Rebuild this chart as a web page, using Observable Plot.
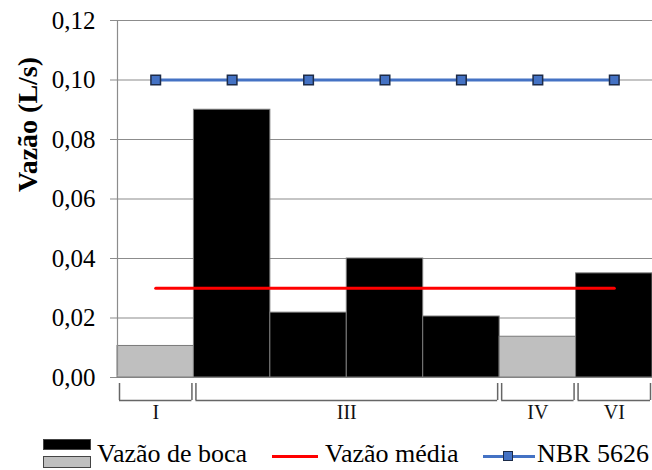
<!DOCTYPE html>
<html>
<head>
<meta charset="utf-8">
<script src="https://cdn.jsdelivr.net/npm/d3@7"></script>
<script src="https://cdn.jsdelivr.net/npm/@observablehq/plot@0.6"></script>
<style>
  html, body { margin: 0; padding: 0; background: white; }
  #wrap { position: relative; width: 652px; height: 470px; font-family: "Liberation Serif", "Times New Roman", serif; }
  #chart { position: absolute; left: 0; top: 0; }
  .lg { position: absolute; }
  .lgtext { position: absolute; font-family: "Liberation Serif", "Times New Roman", serif; font-size: 26px; line-height: 26px; color: #000; white-space: nowrap; }
</style>
</head>
<body>
<div id="wrap">
  <div id="chart"></div>
</div>
<script>
// ---- data ----
const barGroup = ["I", "III", "III", "III", "III", "IV", "VI"];
const barType = ["outro", "boca", "boca", "boca", "boca", "outro", "boca"];
const vazaoBoca = [0.0106, 0.090, 0.0218, 0.040, 0.0205, 0.0137, 0.035];
const vazaoMedia = [0.030, 0.030, 0.030, 0.030, 0.030, 0.030, 0.030];
const nbr5626 = [0.10, 0.10, 0.10, 0.10, 0.10, 0.10, 0.10];
const groupLabels = ["I", "III", "IV", "VI"];
const groupStart = [0, 1, 5, 6];
const groupEnd = [1, 5, 6, 7];
const yTicks = [0, 0.02, 0.04, 0.06, 0.08, 0.10, 0.12];
const yTickLabels = ["0,00", "0,02", "0,04", "0,06", "0,08", "0,10", "0,12"];
const yLabel = "Vazão (L/s)";
const legendLabels = ["Vazão de boca", "Vazão média", "NBR 5626"];

const bars = vazaoBoca.map((v, i) => ({i, group: barGroup[i], tipo: barType[i], value: v}));
const groups = groupLabels.map((g, k) => ({label: g, start: groupStart[k], end: groupEnd[k]}));
const ticks = yTicks.map((v, i) => ({value: v, label: yTickLabels[i]}));
const serif = "'Liberation Serif', 'Times New Roman', serif";

const chart = Plot.plot({
  width: 652,
  height: 432,
  marginLeft: 117,
  marginRight: 0,
  marginTop: 20,
  marginBottom: 55,
  x: {domain: [0, 7], axis: null},
  y: {domain: [0, 0.12], axis: null},
  color: {domain: ["boca", "outro"], range: ["#000000", "#bfbfbf"]},
  style: {fontFamily: serif, background: "white", overflow: "visible", color: "black"},
  marks: [
    // gridlines (extend left as ticks)
    Plot.ruleY(ticks, {y: "value", x1: 0, x2: 7, insetLeft: -7, stroke: "#8c8c8c", strokeWidth: 1.2}),
    // bars
    Plot.rectY(bars, {x1: d => d.i, x2: d => d.i + 1, y: "value", fill: "tipo", stroke: "#7a7a7a", strokeWidth: 1}),
    // y axis line
    Plot.ruleX([0], {x: d => d, y1: 0, y2: 0.12, insetTop: -2, stroke: "#8c8c8c", strokeWidth: 1.2}),
    // y tick labels
    Plot.text(ticks, {x: 0, y: "value", text: "label", textAnchor: "end", dx: -22, fontSize: 25, fontFamily: serif, fill: "black"}),
    // y label
    Plot.text([yLabel], {frameAnchor: "left", rotate: -90, dx: -89, dy: -7, fontSize: 28, fontWeight: "bold", fontFamily: serif, fill: "black"}),
    // mean line
    Plot.lineY(vazaoMedia, {x: (d, i) => i + 0.5, y: d => d, stroke: "#ff0000", strokeWidth: 3}),
    // NBR line + markers
    Plot.lineY(nbr5626, {x: (d, i) => i + 0.5, y: d => d, stroke: "#4472c4", strokeWidth: 3}),
    Plot.dot(nbr5626, {x: (d, i) => i + 0.5, y: d => d, symbol: "square", r: 5.4, fill: "#4472c4", stroke: "#1c2b48", strokeWidth: 1.5}),
    // group brackets
    Plot.ruleY(groups, {y: 0, x1: "start", x2: "end", insetLeft: 2, insetRight: 2, dy: 23, stroke: "#666", strokeWidth: 1.5}),
    Plot.ruleX(groups, {x: "start", y1: 0, y2: 0, insetTop: 6, insetBottom: -23, dx: 2, stroke: "#666", strokeWidth: 1.5}),
    Plot.ruleX(groups, {x: "end", y1: 0, y2: 0, insetTop: 6, insetBottom: -23, dx: -2, stroke: "#666", strokeWidth: 1.5}),
    Plot.text(groups, {x: d => (d.start + d.end) / 2, y: 0, text: "label", dy: 35, fontSize: 20, fontFamily: serif, fill: "#111"})
  ]
});
document.getElementById("chart").appendChild(chart);

// ---- legend ----
const wrap = document.getElementById("wrap");
function el(cls, css, text) {
  const e = document.createElement("div");
  e.className = cls;
  Object.assign(e.style, css);
  if (text) e.textContent = text;
  wrap.appendChild(e);
  return e;
}
el("lg", {left: "43px", top: "439px", width: "48px", height: "11px", background: "#000", boxSizing: "border-box", border: "1px solid #444"});
el("lg", {left: "43px", top: "456px", width: "48px", height: "12px", background: "#bfbfbf", boxSizing: "border-box", border: "1px solid #444"});
el("lgtext", {left: "97px", top: "441px"}, legendLabels[0]);
el("lg", {left: "272px", top: "455px", width: "46px", height: "3px", background: "#ff0000"});
el("lgtext", {left: "325px", top: "441px"}, legendLabels[1]);
el("lg", {left: "483px", top: "455px", width: "52px", height: "3px", background: "#4472c4"});
el("lg", {left: "503px", top: "451px", width: "10px", height: "10px", background: "#4472c4", boxSizing: "border-box", border: "1.5px solid #1c2b48"});
el("lgtext", {left: "537px", top: "441px"}, legendLabels[2]);
</script>
</body>
</html>
